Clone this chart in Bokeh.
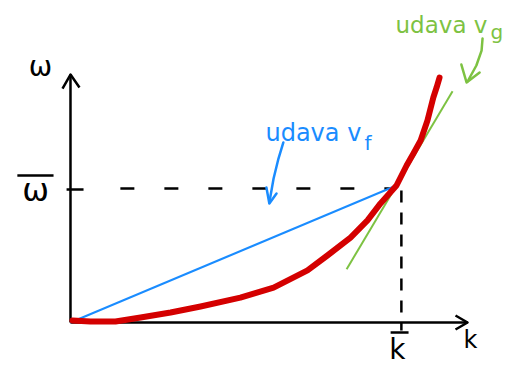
from bokeh.plotting import figure
from bokeh.models import Range1d
from bokeh.core.properties import value
from bokeh.embed import file_html
from bokeh.resources import INLINE

# Dispersion sketch: omega(k), with k normalised to k_bar = 1 and omega to omega_bar = 1
k_curve = [0.006, 0.061, 0.138, 0.215, 0.307, 0.399, 0.521, 0.623, 0.727, 0.788, 0.859,
           0.911, 0.951, 1.000, 1.031, 1.052, 1.074, 1.095, 1.113, 1.123, 1.132]
w_curve = [0.015, 0.007, 0.007, 0.036, 0.073, 0.117, 0.182, 0.255, 0.380, 0.489, 0.620,
           0.745, 0.869, 1.000, 1.146, 1.234, 1.328, 1.474, 1.642, 1.715, 1.788]

k_bar = 1.0
w_bar = 1.0
group_slope = 4.0          # d omega / dk at k_bar
k_tangent = [0.847, 1.172]
w_tangent = [w_bar + group_slope * (k - k_bar) for k in k_tangent]

k_axis_end = 1.218
w_axis_end = 1.81

BLACK = "#000000"
RED = "#d40000"
BLUE = "#1a8cff"
GREEN = "#7dc242"
FONT = value("DejaVu Sans")

p = figure(width=511, height=368, output_backend="svg", toolbar_location=None,
           x_range=Range1d(-0.2147, 1.3528), y_range=Range1d(-0.3358, 2.3504),
           min_border=0)
p.axis.visible = False
p.grid.visible = False
p.outline_line_color = None
p.background_fill_color = "white"
p.border_fill_color = "white"

# axes with open arrowheads
p.line([0, 0], [0, w_axis_end], line_color=BLACK, line_width=2.5)
p.line([0, k_axis_end], [0, 0], line_color=BLACK, line_width=2.5)
p.line([-0.0245, 0, 0.0276], [1.708, w_axis_end, 1.715], line_color=BLACK, line_width=2.5,
       line_join="round")
p.line([1.181, k_axis_end, 1.181], [0.051, 0, -0.051], line_color=BLACK, line_width=2.5,
       line_join="round")

# guide lines at (k_bar, omega_bar)
p.line([0.153, k_bar - 0.01], [w_bar - 0.022, w_bar - 0.022], line_color=BLACK,
       line_width=2.5, line_dash="14 30")
p.line([k_bar + 0.015, k_bar + 0.015], [0.964, -0.058], line_color=BLACK, line_width=2.5,
       line_dash="12 10")
p.line([-0.012, 0.04], [w_bar - 0.029, w_bar - 0.029], line_color=BLACK, line_width=2.5)

# phase velocity chord and group velocity tangent
p.line([0, k_bar], [0, w_bar], line_color=BLUE, line_width=2)
p.line(k_tangent, w_tangent, line_color=GREEN, line_width=2)

# dispersion curve
p.line(k_curve, w_curve, line_color=RED, line_width=6, line_cap="round", line_join="round")

# axis labels
p.text([-0.092], [1.869], text=["ω"], text_font=FONT, text_font_size="28px",
       text_align="center", text_baseline="middle", text_color=BLACK)
p.text([-0.107], [0.964], text=["ω"], text_font=FONT, text_font_size="32px",
       text_align="center", text_baseline="middle", text_color=BLACK)
p.line([-0.163, -0.052], [1.073, 1.073], line_color=BLACK, line_width=2.5)
p.text([1.003], [-0.197], text=["k"], text_font=FONT, text_font_size="28px",
       text_align="center", text_baseline="middle", text_color=BLACK)
p.line([0.982, 1.037], [-0.073, -0.073], line_color=BLACK, line_width=2.5)
p.text([1.227], [-0.131], text=["k"], text_font=FONT, text_font_size="24px",
       text_align="center", text_baseline="middle", text_color=BLACK)

# annotation: phase velocity
p.text([0.598], [1.380], text=["udava v"], text_font=FONT, text_font_size="24px",
       text_align="left", text_baseline="alphabetic", text_color=BLUE)
p.text([0.902], [1.307], text=["f"], text_font=FONT, text_font_size="20px",
       text_align="left", text_baseline="alphabetic", text_color=BLUE)
p.line([0.653, 0.638, 0.623, 0.610], [1.314, 1.197, 1.051, 0.876], line_color=BLUE,
       line_width=2.5, line_cap="round", line_join="round")
p.line([0.601, 0.610, 0.632], [0.985, 0.869, 0.942], line_color=BLUE, line_width=2.5,
       line_cap="round", line_join="round")

# annotation: group velocity
p.text([0.997], [2.168], text=["udava v"], text_font=FONT, text_font_size="23px",
       text_align="left", text_baseline="alphabetic", text_color=GREEN)
p.text([1.288], [2.117], text=["g"], text_font=FONT, text_font_size="20px",
       text_align="left", text_baseline="alphabetic", text_color=GREEN)
p.line([1.264, 1.261, 1.245, 1.218], [2.073, 1.985, 1.876, 1.759], line_color=GREEN,
       line_width=2.5, line_cap="round", line_join="round")
p.line([1.199, 1.215, 1.255], [1.883, 1.752, 1.825], line_color=GREEN, line_width=2.5,
       line_cap="round", line_join="round")

open("out.html", "w").write(file_html(p, INLINE))
